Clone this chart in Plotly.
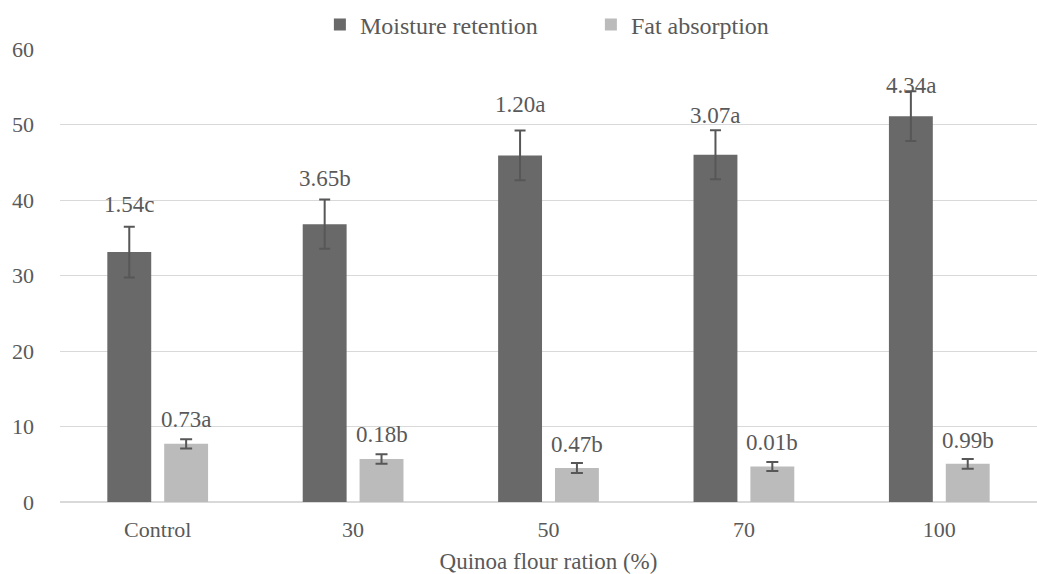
import plotly.graph_objects as go

# ---- data ----
categories = ["Control", "30", "50", "70", "100"]
moisture = [33.1, 36.8, 45.9, 46.0, 51.1]
moisture_err = [3.35, 3.25, 3.3, 3.25, 3.3]
fat = [7.7, 5.7, 4.5, 4.7, 5.05]
fat_err = [0.62, 0.62, 0.66, 0.6, 0.66]
moisture_labels = ["1.54c", "3.65b", "1.20a", "3.07a", "4.34a"]
fat_labels = ["0.73a", "0.18b", "0.47b", "0.01b", "0.99b"]

# ---- style ----
FONT = "Liberation Serif"
TXT = "#595959"
DARK = "#696969"
LIGHT = "#bbbbbb"
ERRC = "#575757"
moist_label_shift = [22, 21, 26, 15, 6]   # pixel offsets above error bar tops
fat_label_shift = [20, 20, 19, 19, 18]

fig = go.Figure()
fig.add_trace(go.Bar(
    name="Moisture retention", x=categories, y=moisture, marker_color=DARK,
    marker_line_width=0,
    error_y=dict(type="data", array=moisture_err, color=ERRC, thickness=2, width=5.5),
))
fig.add_trace(go.Bar(
    name="Fat absorption", x=categories, y=fat, marker_color=LIGHT,
    marker_line_width=0,
    error_y=dict(type="data", array=fat_err, color=ERRC, thickness=2, width=6),
))

annotations = []
for i, c in enumerate(categories):
    annotations.append(dict(
        x=i, y=moisture[i] + moisture_err[i], xref="x", yref="y",
        text=moisture_labels[i], showarrow=False, xshift=-28.5,
        yshift=moist_label_shift[i], yanchor="middle",
        font=dict(family=FONT, size=23, color=TXT)))
    annotations.append(dict(
        x=i, y=fat[i] + fat_err[i], xref="x", yref="y",
        text=fat_labels[i], showarrow=False, xshift=28.5,
        yshift=fat_label_shift[i], yanchor="middle",
        font=dict(family=FONT, size=23, color=TXT)))

fig.update_layout(
    width=1037, height=574,
    margin=dict(l=60, r=0, t=49, b=72, autoexpand=False),
    paper_bgcolor="white", plot_bgcolor="white",
    barmode="group", bargap=0.418, bargroupgap=0.228,
    font=dict(family=FONT, size=22, color=TXT),
    showlegend=True,
    legend=dict(orientation="h", x=0.266, xanchor="left", y=1.053, yanchor="middle",
                font=dict(family=FONT, size=24, color=TXT), itemwidth=30,
                tracegroupgap=0, entrywidth=226,
                traceorder="normal", bgcolor="rgba(0,0,0,0)"),
    annotations=annotations,
    xaxis=dict(
        type="category", categoryorder="array", categoryarray=categories,
        range=[-0.5, len(categories) - 0.5],
        showgrid=False, showline=False, ticks="",
        tickfont=dict(family=FONT, size=22, color=TXT), ticklabelstandoff=12,
        title=dict(text="Quinoa flour ration (%)", standoff=11,
                   font=dict(family=FONT, size=23, color=TXT)),
    ),
    yaxis=dict(
        range=[0, 60], dtick=10, showgrid=True, gridcolor="#d9d9d9", gridwidth=1,
        zeroline=True, zerolinecolor="#d9d9d9", zerolinewidth=1.5,
        showline=False, ticks="", ticklabelstandoff=25,
        tickfont=dict(family=FONT, size=22, color=TXT),
    ),
)

fig.write_html("out.html", config={"displayModeBar": False},
               post_script="document.body.style.margin='0';document.body.style.overflow='hidden';")
